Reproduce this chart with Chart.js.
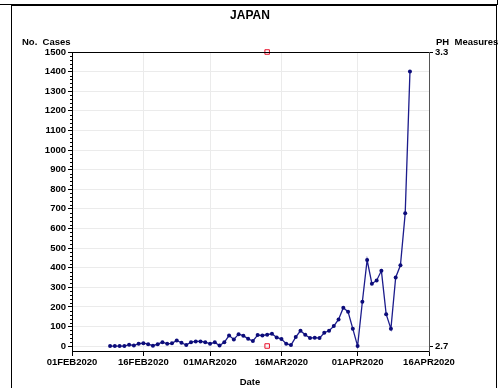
<!DOCTYPE html>
<html>
<head>
<meta charset="utf-8">
<script src="https://cdn.jsdelivr.net/npm/chart.js@4.4.1/dist/chart.umd.min.js"></script>
<style>
  html, body { margin: 0; padding: 0; background: #fff; }
  #wrap { position: relative; width: 500px; height: 388px; overflow: hidden; }
  #prev { position: absolute; left: -2px; top: -10px; width: 498px; height: 13px; border: 1px solid #000; }
  #frame { position: absolute; left: 11px; top: 5px; width: 484px; height: 400px; border: 1px solid #000; border-bottom: none; }
  canvas { position: absolute; left: 0; top: 0; }
</style>
</head>
<body>
<div id="wrap">
  <div id="prev"></div>
  <div id="frame"></div>
  <canvas id="chart" width="500" height="388"></canvas>
</div>
<script>
// Daily reported cases, Japan
const dates = [
  '09FEB2020','10FEB2020','11FEB2020','12FEB2020','13FEB2020','14FEB2020','15FEB2020','16FEB2020',
  '17FEB2020','18FEB2020','19FEB2020','20FEB2020','21FEB2020','22FEB2020','23FEB2020','24FEB2020',
  '25FEB2020','26FEB2020','27FEB2020','28FEB2020','29FEB2020',
  '01MAR2020','02MAR2020','03MAR2020','04MAR2020','05MAR2020','06MAR2020','07MAR2020','08MAR2020',
  '09MAR2020','10MAR2020','11MAR2020','12MAR2020','13MAR2020','14MAR2020','15MAR2020','16MAR2020',
  '17MAR2020','18MAR2020','19MAR2020','20MAR2020','21MAR2020','22MAR2020','23MAR2020','24MAR2020',
  '25MAR2020','26MAR2020','27MAR2020','28MAR2020','29MAR2020','30MAR2020','31MAR2020',
  '01APR2020','02APR2020','03APR2020','04APR2020','05APR2020','06APR2020','07APR2020','08APR2020',
  '09APR2020','10APR2020','11APR2020','12APR2020'
];
const cases = [
  0, 0, 0, 0, 7, 3, 12, 15,
  10, 2, 10, 20, 12, 14, 29, 17,
  5, 20, 24, 24, 20,
  12, 19, 3, 19, 54, 34, 61, 53,
  37, 26, 56, 54, 58, 63, 44, 36,
  12, 5, 46, 78, 58, 41, 43, 41,
  68, 78, 102, 136, 196, 175, 88,
  0, 226, 439, 318, 335, 384, 163, 88,
  350, 412, 677, 1400
];

// Public health measures (right axis)
const phDates = ['13MAR2020', '13MAR2020'];
const phValues = [2.7, 3.3];

// Axis ticks
const xTickDates = ['01FEB2020', '16FEB2020', '01MAR2020', '16MAR2020', '01APR2020', '16APR2020'];
const yTicks = [0, 100, 200, 300, 400, 500, 600, 700, 800, 900, 1000, 1100, 1200, 1300, 1400, 1500];
const y2Ticks = [2.7, 3.3];
const yMinorStep = 20;

const MONTHS = { JAN: 0, FEB: 1, MAR: 2, APR: 3, MAY: 4 };
const origin = Date.UTC(2020, 1, 1);
function dayOf(s) {
  const d = +s.slice(0, 2), m = MONTHS[s.slice(2, 5)], y = +s.slice(5);
  return Math.round((Date.UTC(y, m, d) - origin) / 86400000);
}
const labelByDay = {};
xTickDates.forEach(s => { labelByDay[dayOf(s)] = s; });

const FONT = '"Liberation Sans", Arial, sans-serif';

const textPlugin = {
  id: 'texts',
  afterDraw(chart) {
    const ctx = chart.ctx;
    const a = chart.chartArea;
    const ys = chart.scales.y;
    ctx.save();
    // top edge of the plot area
    ctx.fillStyle = '#000';
    ctx.fillRect(Math.round(a.left), Math.round(a.top), Math.round(a.right - a.left), 1);
    // minor ticks on the left axis
    for (let v = 0; v < 1500; v += yMinorStep) {
      if (v % 100 === 0) continue;
      const py = Math.round(ys.getPixelForValue(v));
      ctx.fillRect(Math.round(a.left) - 2, py, 2, 1);
    }
    ctx.textBaseline = 'middle';
    ctx.font = 'bold 12px ' + FONT;
    ctx.textAlign = 'center';
    ctx.fillText('JAPAN', 250, 16);
    ctx.font = 'bold 9.5px ' + FONT;
    ctx.textAlign = 'left';
    ctx.fillText('No.  Cases', 22, 42);
    ctx.fillText('PH  Measures', 436, 42);
    ctx.textAlign = 'center';
    ctx.fillText('Date', 250, 382);
    ctx.restore();
  }
};

new Chart(document.getElementById('chart'), {
  type: 'line',
  data: {
    datasets: [{
      label: 'No. Cases',
      data: dates.map((d, i) => ({ x: dayOf(d), y: cases[i] })),
      borderColor: '#1c1c8c',
      backgroundColor: '#0c0c7a',
      borderWidth: 1.3,
      pointRadius: 2,
      pointHoverRadius: 2,
      pointBorderWidth: 0,
      tension: 0,
      yAxisID: 'y'
    }, {
      label: 'PH Measures',
      data: phDates.map((d, i) => ({ x: dayOf(d), y: phValues[i] })),
      showLine: false,
      clip: false,
      pointStyle: 'rect',
      pointRadius: 3.2,
      pointBorderWidth: 1,
      borderColor: '#e8102a',
      backgroundColor: 'rgba(0,0,0,0)',
      yAxisID: 'y2'
    }]
  },
  options: {
    responsive: false,
    animation: false,
    layout: { padding: { top: 52, left: 0, right: 0, bottom: 0 } },
    plugins: { legend: { display: false }, tooltip: { enabled: false }, title: { display: false } },
    scales: {
      x: {
        type: 'linear',
        min: 0,
        max: 75,
        afterBuildTicks: s => { s.ticks = xTickDates.map(d => ({ value: dayOf(d) })); },
        afterFit: s => { s.height = 37; },
        ticks: {
          callback: v => labelByDay[v] || '',
          color: '#000',
          font: { family: FONT, size: 9.5, weight: 'bold' },
          padding: 1,
          maxRotation: 0,
          autoSkip: false
        },
        grid: { color: '#ebebeb', tickColor: '#000', tickLength: 5, lineWidth: 1 },
        border: { color: '#000', width: 1 }
      },
      y: {
        position: 'left',
        min: -25,
        max: 1500,
        afterBuildTicks: s => { s.ticks = yTicks.map(v => ({ value: v })); },
        afterFit: s => { s.width = 72; },
        ticks: {
          callback: v => String(v),
          color: '#000',
          font: { family: FONT, size: 9.5, weight: 'bold' },
          padding: 2,
          autoSkip: false
        },
        grid: { color: '#ebebeb', tickColor: '#000', tickLength: 4, lineWidth: 1 },
        border: { color: '#000', width: 1 }
      },
      y2: {
        position: 'right',
        min: 2.6898,
        max: 3.3,
        afterBuildTicks: s => { s.ticks = y2Ticks.map(v => ({ value: v })); },
        afterFit: s => { s.width = 71; },
        ticks: {
          color: '#000',
          font: { family: FONT, size: 9.5, weight: 'bold' },
          padding: 2,
          callback: v => v.toFixed(1)
        },
        grid: { drawOnChartArea: false, tickColor: '#000', tickLength: 4 },
        border: { color: '#555', width: 1 }
      }
    }
  },
  plugins: [textPlugin]
});
</script>
</body>
</html>
